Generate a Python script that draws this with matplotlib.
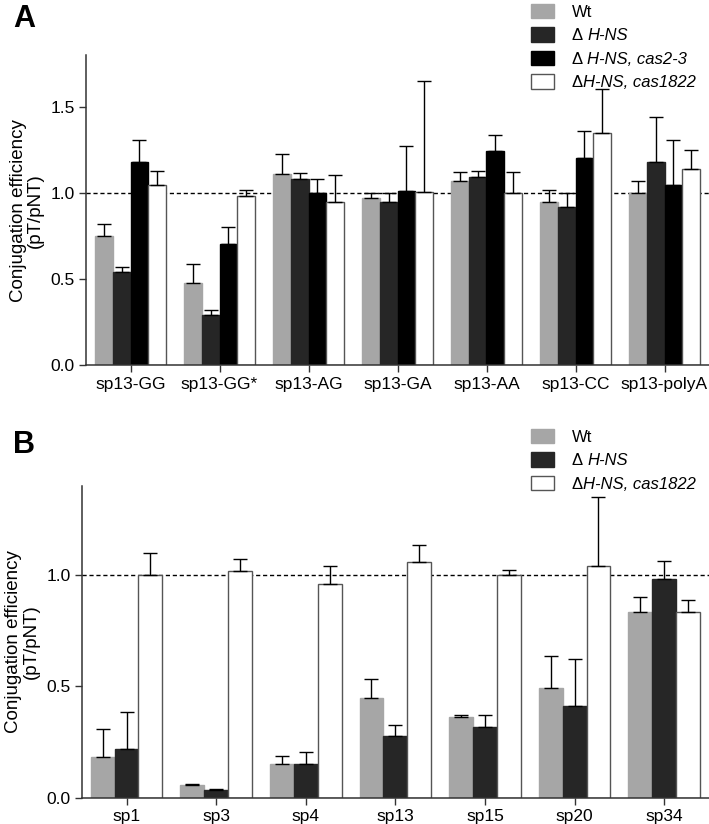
import numpy as np
import matplotlib
matplotlib.use("Agg")
import matplotlib.pyplot as plt

plt.rcParams['font.family'] = ['Liberation Sans', 'DejaVu Sans']

# panel A data
groups_a = ["sp13-GG", "sp13-GG*", "sp13-AG", "sp13-GA", "sp13-AA", "sp13-CC", "sp13-polyA"]
wt_a = [0.75, 0.48, 1.11, 0.97, 1.07, 0.95, 1.00]
wt_a_err = [0.07, 0.11, 0.115, 0.03, 0.05, 0.07, 0.07]
hns_a = [0.54, 0.29, 1.08, 0.95, 1.09, 0.92, 1.18]
hns_a_err = [0.03, 0.03, 0.035, 0.05, 0.04, 0.08, 0.26]
cas23_a = [1.18, 0.705, 1.00, 1.01, 1.245, 1.20, 1.045]
cas23_a_err = [0.13, 0.095, 0.08, 0.26, 0.09, 0.16, 0.26]
cas1822_a = [1.045, 0.98, 0.95, 1.005, 1.00, 1.345, 1.14]
cas1822_a_err = [0.085, 0.04, 0.155, 0.645, 0.12, 0.255, 0.11]

# panel B data
groups_b = ["sp1", "sp3", "sp4", "sp13", "sp15", "sp20", "sp34"]
wt_b = [0.184, 0.055, 0.149, 0.447, 0.36, 0.493, 0.833]
wt_b_err = [0.124, 0.008, 0.036, 0.087, 0.012, 0.144, 0.068]
hns_b = [0.218, 0.034, 0.152, 0.275, 0.317, 0.41, 0.982]
hns_b_err = [0.166, 0.006, 0.053, 0.052, 0.055, 0.212, 0.081]
cas1822_b = [1.0, 1.019, 0.957, 1.058, 1.0, 1.04, 0.833]
cas1822_b_err = [0.1, 0.053, 0.083, 0.078, 0.022, 0.31, 0.053]

colors = {"wt": "#a6a6a6", "hns": "#262626", "cas23": "#000000", "cas1822": "#ffffff"}
# legend label: upright part, italic part, space between them
labels = {
    "wt": ("Wt", "", False),
    "hns": ("Δ", "H-NS", True),
    "cas23": ("Δ", "H-NS, cas2-3", True),
    "cas1822": ("Δ", "H-NS, cas1822", False),
}

W, H = 709, 824
fig = plt.figure(figsize=(W / 100, H / 100), dpi=100)


def ax_rect(left, right, top, bottom):
    return [left / W, 1 - bottom / H, (right - left) / W, (bottom - top) / H]


def draw_panel(ax, groups, series, ymax, yticks):
    n = len(series)
    width = 0.8 / n
    x = np.arange(len(groups))
    for i, (key, vals, errs) in enumerate(series):
        pos = x - 0.4 + width * (i + 0.5)
        ax.bar(pos, vals, width, color=colors[key],
               edgecolor="#555555" if key == "cas1822" else colors[key],
               linewidth=1.0, label=key, zorder=2)
        ax.errorbar(pos, vals, yerr=[np.zeros(len(vals)), errs], fmt="none",
                    ecolor="black", elinewidth=1.0, capsize=5, capthick=1.0, zorder=3)
    ax.axhline(1.0, color="black", linestyle=(0, (3, 2)), linewidth=1.0, zorder=1)
    ax.set_xlim(-0.5, len(groups) - 0.5)
    ax.set_ylim(0, ymax)
    ax.set_xticks(x)
    ax.set_xticklabels(groups, fontsize=12.5)
    ax.set_yticks(yticks)
    ax.set_yticklabels([f"{t:.1f}" for t in yticks], fontsize=12.5)
    ax.set_ylabel("Conjugation efficiency\n(pT/pNT)", fontsize=13.5, labelpad=5,
                  linespacing=1.0)
    for s in ["top", "right"]:
        ax.spines[s].set_visible(False)
    for s in ["left", "bottom"]:
        ax.spines[s].set_color("#333333")
        ax.spines[s].set_linewidth(1.1)
    ax.tick_params(direction="out", length=5, width=1.0, color="#333333", pad=3)


ax_a = fig.add_axes(ax_rect(86, 709, 55, 365.5))
draw_panel(ax_a, groups_a, [
    ("wt", wt_a, wt_a_err),
    ("hns", hns_a, hns_a_err),
    ("cas23", cas23_a, cas23_a_err),
    ("cas1822", cas1822_a, cas1822_a_err),
], 1.8, [0.0, 0.5, 1.0, 1.5])

ax_b = fig.add_axes(ax_rect(81.7, 709, 485.7, 797.7))
draw_panel(ax_b, groups_b, [
    ("wt", wt_b, wt_b_err),
    ("hns", hns_b, hns_b_err),
    ("cas1822", cas1822_b, cas1822_b_err),
], 1.4, [0.0, 0.5, 1.0])

legends = []
for ax, top in [(ax_a, 4), (ax_b, 429)]:
    h, keys = ax.get_legend_handles_labels()
    leg = fig.legend(h, [labels[k][0] for k in keys], loc="upper left",
                     bbox_to_anchor=(531 / W, 1 - top / H),
                     frameon=False, fontsize=12, borderpad=0, borderaxespad=0,
                     handlelength=1.35, handleheight=0.95, handletextpad=1.1,
                     labelspacing=0.45)
    legends.append((leg, keys))

# italic part of the legend labels, placed right after the upright part
fig.canvas.draw()
renderer = fig.canvas.get_renderer()
for leg, keys in legends:
    for txt, k in zip(leg.get_texts(), keys):
        _, ital, space = labels[k]
        if not ital:
            continue
        bb = txt.get_window_extent(renderer)
        x0 = bb.x1 + (4.5 if space else 0.5)
        fig.text(x0 / W, (bb.y0 + bb.y1) / 2 / H, ital, fontsize=12,
                 style="italic", va="center", ha="left")

fig.text(13 / W, 1 - 4 / H, "A", fontsize=22, fontweight="bold", va="top")
fig.text(13 / W, 1 - 430 / H, "B", fontsize=22, fontweight="bold", va="top")

fig.savefig("out.png", dpi=100)
